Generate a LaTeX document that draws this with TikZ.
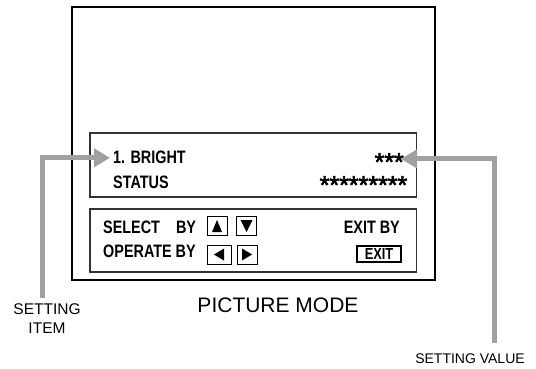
\documentclass[tikz,border=0pt]{standalone}
\usepackage{fontspec}
\setmainfont{Liberation Sans}
\newfontfamily\narrowfont[FakeStretch=0.8]{Liberation Sans}
\newfontfamily\starfont[FakeBold=2.5]{Liberation Sans}
\usetikzlibrary{arrows.meta}
\definecolor{pointergray}{RGB}{160,160,160}
\definecolor{framegray}{RGB}{50,50,50}

\begin{document}
\begin{tikzpicture}[x=1pt,y=-1pt,
	lbl/.style={anchor=base west,inner sep=0pt,font=\narrowfont\bfseries\fontsize{18}{20}\selectfont},
	stars/.style={anchor=base east,inner sep=0pt,font=\starfont\fontsize{25}{26}\selectfont},
	btn/.style={draw,line width=0.9pt,inner sep=0pt,minimum height=19pt},
	pointer/.style={draw=pointergray,line width=5pt,-{Triangle[length=16pt,width=18pt]}}]

	\useasboundingbox (0,0) rectangle (536,369);

	\draw[line width=2pt] (72,7) rectangle (435,279.5); % Экран
	\draw[line width=1.2pt, color=framegray] (90,133) rectangle (416.5,197); % Верхнее окно
	\draw[line width=1.2pt, color=framegray] (90,209) rectangle (416.5,272); % Нижнее окно

	\node[lbl] (bright) at (113,164) {1. BRIGHT};
	\node[lbl] (status) at (113,188.5) {STATUS};
	\node[stars] (val) at (404,170.5) {***};
	\node[stars] (statusval) at (407.5,193.5) {*********};

	\node[lbl] (select) at (103,233) {SELECT\hspace{16pt}BY};
	\node[lbl] (operate) at (103,257.5) {OPERATE BY};
	\node[lbl, anchor=base east] (exitby) at (400,233) {EXIT BY};
	\node[draw, line width=1.6pt, minimum width=44pt, minimum height=16pt, inner sep=0pt,
		font=\narrowfont\bfseries\fontsize{16}{17}\selectfont] (exit) at (379,254) {EXIT};

	\node[btn, minimum width=20pt] (up) at (217,226) {};
	\node[btn, minimum width=20pt] (down) at (246.5,226) {};
	\node[btn, minimum width=24pt] (left) at (219,254.5) {};
	\node[btn, minimum width=20pt] (right) at (247,254.5) {};

	\fill[shift={(up.center)}] (-5,6) -- (0,-6) -- (5,6) -- cycle; % Вверх
	\fill[shift={(down.center)}] (-6,-6) -- (6,-6) -- (0,6) -- cycle; % Вниз
	\fill[shift={(left.center)}] (-5,0) -- (5,-6) -- (5,6) -- cycle; % Влево
	\fill[shift={(right.center)}] (5,0) -- (-5,-6) -- (-5,6) -- cycle; % Вправо

	\node[font=\fontsize{21}{24}\selectfont] (mode) at (278,305.5) {PICTURE MODE};
	\node[font=\fontsize{15.5}{19}\selectfont, align=center, anchor=north] (item) at (47,300) {SETTING\\ITEM};
	\node[font=\fontsize{14}{16}\selectfont, anchor=base] (value) at (470,363) {SETTING VALUE};

	\coordinate (itemfoot) at (42,298);
	\coordinate (valuefoot) at (494,343);

	\draw[pointer, shorten >=3pt] (itemfoot) |- (bright.west); % Стрелка к пункту
	\draw[pointer, shorten >=-3pt] (valuefoot) |- ([yshift=3pt]val.east); % Стрелка к значению
\end{tikzpicture}
\end{document}
